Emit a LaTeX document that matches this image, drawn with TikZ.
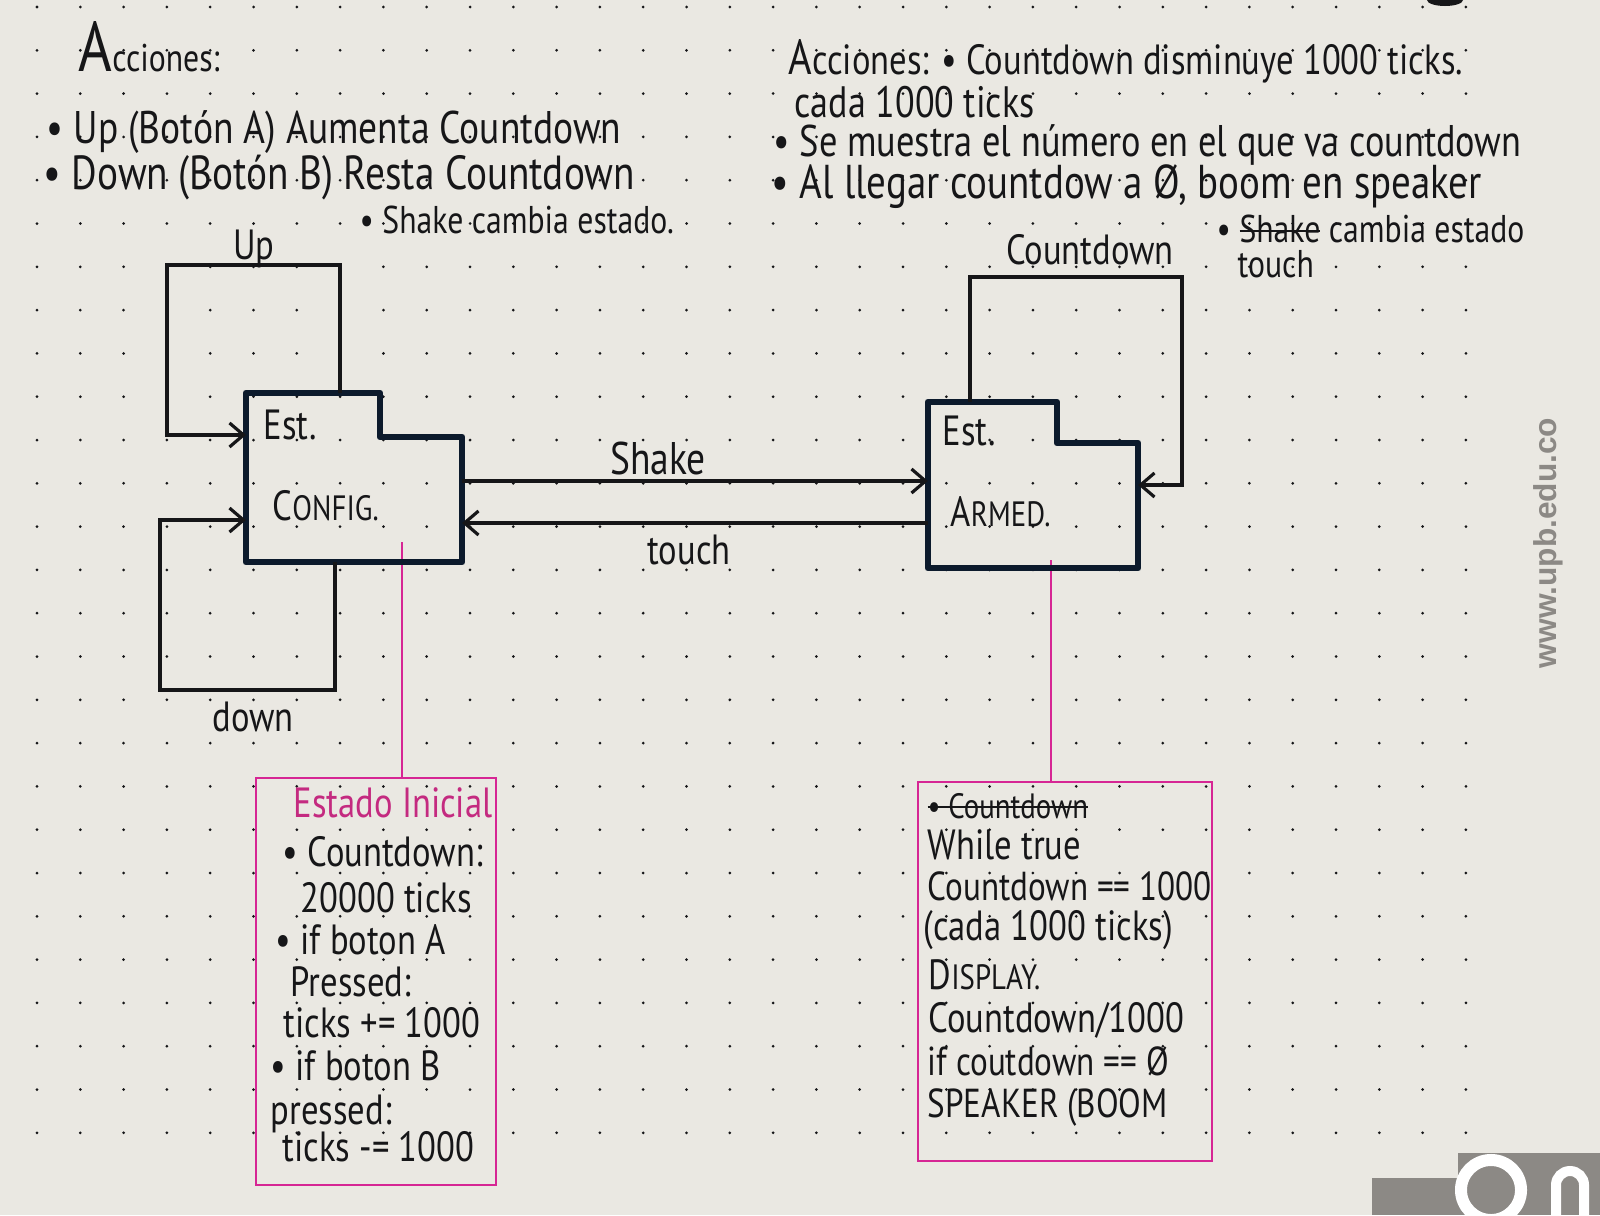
\documentclass[tikz,border=0pt]{standalone}
\usepackage{fontspec}
\setmainfont{PT Sans}[FakeStretch=0.82]
\newfontfamily\webfont{Liberation Sans}
\usetikzlibrary{arrows.meta,calc}
\definecolor{paper}{RGB}{234,232,226}
\definecolor{ink}{RGB}{22,22,24}
\definecolor{navy}{RGB}{12,26,44}
\definecolor{rosa}{RGB}{214,38,148}
\definecolor{rosatext}{RGB}{196,42,128}
\definecolor{logogray}{RGB}{140,137,133}
\newcommand\strikeword[1]{\setbox0\hbox{#1}\rlap{\rule[0.28em]{\wd0}{0.6pt}}\box0\relax}

\begin{document}
\begin{tikzpicture}[x=0.01cm,y=-0.01cm,
		wire/.style={draw=ink,line width=0.9pt},
		flow/.style={wire,-{Straight Barb[length=1.4mm,width=2.4mm]}},
		statebox/.style={draw=navy,line width=1.9pt,line join=round},
		statearea/.style={inner sep=0pt,outer sep=0pt},
		notebox/.style={draw=rosa,line width=0.7pt,inner sep=0pt},
		pinkline/.style={draw=rosa,line width=0.7pt},
		hand/.style={text=ink,inner sep=0pt,anchor=west,font=\fontsize{12}{14}\selectfont},
		handbig/.style={hand,font=\fontsize{13}{15}\selectfont},
		handsmall/.style={hand,font=\fontsize{11}{13}\selectfont}]
		\fill[paper] (0,0) rectangle (1600,1215);
		\useasboundingbox (0,0) rectangle (1600,1215);
		\foreach \i in {0,...,33}
			\foreach \j in {0,...,26}
				\fill[ink] (37+43.3*\i,7+43.3*\j) circle[radius=0.015cm];
		\fill[ink] (1445,0) ellipse[x radius=0.18cm,y radius=0.06cm];

		\node[hand] (accleft) at (78,47) {{\fontsize{20}{22}\selectfont A}{\fontsize{11}{13}\selectfont cciones:}};
		\node[handbig] (upline) at (46,132) {• Up (Botón A) Aumenta Countdown};
		\node[handbig,font=\fontsize{13.6}{15}\selectfont] (downline) at (43,178) {• Down (Botón B) Resta Countdown};
		\node[handsmall] (shakeline) at (359,220) {• Shake cambia estado.};

		\node[hand] (accright) at (788,61) {{\fontsize{14}{16}\selectfont A}cciones: • Countdown disminuye 1000 ticks.};
		\node[hand,font=\fontsize{12.5}{14}\selectfont] (cadaline) at (794,102) {cada 1000 ticks};
		\node[hand,font=\fontsize{12.6}{14}\selectfont] (muestraline) at (773,145) {• Se muestra el número en el que va countdown};
		\node[hand,font=\fontsize{13.5}{15}\selectfont] (llegarline) at (771,187) {• Al llegar countdow a Ø, boom en speaker};
		\node[handsmall] (touchline) at (1216,229) {• \strikeword{Shake} cambia estado};
		\node[handsmall] (touchword) at (1237,264) {touch};

		\coordinate (cfgtail) at (402,542);
		\coordinate (armtail) at (1051,560);
		\node[notebox,minimum width=2.40cm,minimum height=4.07cm] (init) at (376,981.5) {};
		\node[notebox,minimum width=2.94cm,minimum height=3.79cm] (loopbox) at (1065,971.5) {};
		\draw[pinkline] (cfgtail) -- (cfgtail |- init.north);
		\draw[pinkline] (armtail) -- (armtail |- loopbox.north);

		\node[statearea,minimum width=2.16cm,minimum height=1.69cm] (config) at (354,477.5) {};
		\node[statearea,minimum width=2.10cm,minimum height=1.66cm] (armed) at (1033,485) {};
		\draw[statebox] (config.north west) -- ++(134,0) -- ++(0,44) -| (config.south east) -- (config.south west) -- cycle;
		\draw[statebox] (armed.north west) -- ++(129,0) -- ++(0,41) -| (armed.south east) -- (armed.south west) -- cycle;
		\node[hand] (cfgest) at (263,425) {Est.};
		\node[hand] (cfgname) at (272,506) {C{\fontsize{10}{12}\selectfont ONFIG.}};
		\node[hand] (armest) at (942,431) {Est.};
		\node[hand] (armname) at (950,512) {A{\fontsize{10}{12}\selectfont RMED.}};

		\coordinate (uptop) at (167,265);
		\coordinate (downbot) at (160,690);
		\coordinate (cdtop) at (1182,277);
		\coordinate (shakelvl) at (0,481);
		\coordinate (touchlvl) at (0,523);
		\draw[flow] ([xshift=-0.14cm]config.north) |- (uptop) |- ([yshift=0.425cm]config.west);
		\draw[flow] ([xshift=-0.19cm]config.south) |- (downbot) |- ([yshift=-0.425cm]config.west);
		\draw[flow] ([xshift=-0.63cm]armed.north) |- (cdtop) |- (armed.east);
		\draw[flow] (config.east |- shakelvl) -- (armed.west |- shakelvl);
		\draw[flow] (armed.west |- touchlvl) -- (config.east |- touchlvl);
		\node[hand,anchor=center] (uplabel) at (254,249) {Up};
		\node[hand,anchor=center] (downlabel) at (253,717) {down};
		\node[hand,anchor=center] (cdlabel) at (1090,250) {Countdown};
		\node[handbig,anchor=center] (shakelabel) at (658,458) {Shake};
		\node[hand,anchor=center] (touchlabel) at (689,550) {touch};

		\node[hand,text=rosatext] (i1) at (293,803) {Estado Inicial};
		\node[hand] (i2) at (282,852) {• Countdown:};
		\node[hand] (i3) at (300,898) {20000 ticks};
		\node[hand] (i4) at (275,940) {• if boton A};
		\node[hand] (i5) at (290,982) {Pressed:};
		\node[hand] (i6) at (283,1023) {ticks += 1000};
		\node[hand] (i7) at (270,1066) {• if boton B};
		\node[hand] (i8) at (270,1114) {pressed:};
		\node[hand] (i9) at (282,1147) {ticks -= 1000};

		\node[handsmall,font=\fontsize{10}{12}\selectfont] (a1) at (927,806) {\strikeword{• Countdown}};
		\node[hand] (a2) at (927,845) {While true};
		\node[hand,font=\fontsize{11.5}{13}\selectfont] (a3) at (927,886) {Countdown == 1000};
		\node[hand] (a4) at (923,930) {(cada 1000 ticks)};
		\node[hand] (a5) at (928,975) {D{\fontsize{10}{12}\selectfont ISPLAY.}};
		\node[hand] (a6) at (928,1020) {Countdown/1000};
		\node[hand,font=\fontsize{11.5}{13}\selectfont] (a7) at (927,1061) {if coutdown == Ø};
		\node[hand,font=\fontsize{11.5}{13}\selectfont] (a8) at (927,1108) {SPEAKER (BOOM};

		\node[rotate=90,text=logogray,font=\webfont\bfseries\fontsize{9}{11}\selectfont] (web) at (1548,543) {www.upb.edu.co};
		\fill[logogray] (1372,1178) rectangle (1462,1215);
		\fill[logogray] (1458,1153) rectangle (1600,1215);
		\draw[white,line width=0.12cm] (1491,1190) circle[radius=0.30cm];
		\draw[white,line width=0.1cm] (1556,1215) -- (1556,1185) arc[start angle=180,end angle=0,radius=0.14cm] -- (1584,1215);
	\end{tikzpicture}
\end{document}
